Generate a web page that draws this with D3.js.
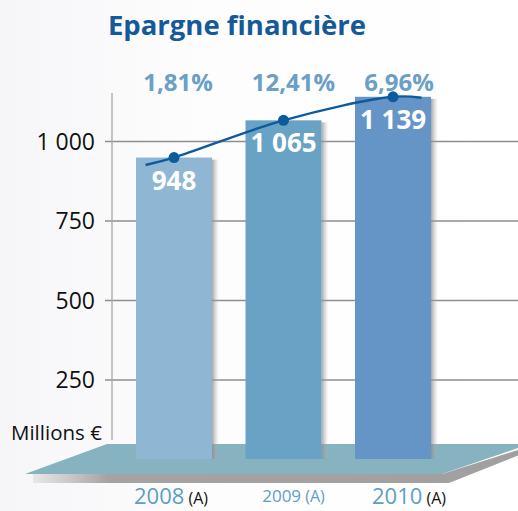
<!DOCTYPE html>
<html>
<head>
<meta charset="utf-8">
<script src="https://cdn.jsdelivr.net/npm/d3@7"></script>
<style>
  html, body { margin: 0; padding: 0; background: #ffffff; }
  svg { display: block; }
</style>
</head>
<body>
<svg id="chart" width="518" height="511"></svg>
<script>
// ---- data ----
const years = ["2008", "2009", "2010"];
const values = [948, 1065, 1139];
const valueLabels = ["948", "1 065", "1 139"];
const growthLabels = ["1,81%", "12,41%", "6,96%"];
const yTicks = [250, 500, 750, 1000];
const yTickLabels = ["250", "500", "750", "1 000"];
const title = "Epargne financière";
const unitLabel = "Millions €";
const yearSuffix = "(A)";

// ---- layout ----
const W = 518, H = 511;
const barColors = ["#8fb7d3", "#68a2c4", "#6595c7"];
const font = "'Open Sans', 'Noto Sans', sans-serif";

const svg = d3.select("#chart");

// background
const defs = svg.append("defs");
const bg = defs.append("linearGradient").attr("id", "bg").attr("x1", 0).attr("x2", 1).attr("y1", 0).attr("y2", 0);
bg.append("stop").attr("offset", "0%").attr("stop-color", "#f6f6f8");
bg.append("stop").attr("offset", "40%").attr("stop-color", "#fdfdfe");
bg.append("stop").attr("offset", "100%").attr("stop-color", "#ffffff");
svg.append("rect").attr("width", W).attr("height", H).attr("fill", "url(#bg)");

const sh = defs.append("linearGradient").attr("id", "barShadow").attr("x1", 0).attr("x2", 1).attr("y1", 0).attr("y2", 0);
sh.append("stop").attr("offset", "0%").attr("stop-color", "#8a8a8a").attr("stop-opacity", 0.75);
sh.append("stop").attr("offset", "100%").attr("stop-color", "#bbbbbb").attr("stop-opacity", 0);

const platShadow = defs.append("linearGradient").attr("id", "platShadow").attr("x1", 0).attr("x2", 1).attr("y1", 0).attr("y2", 0);
platShadow.append("stop").attr("offset", "0%").attr("stop-color", "#a9a9a9").attr("stop-opacity", 0.2);
platShadow.append("stop").attr("offset", "15%").attr("stop-color", "#a3a3a3").attr("stop-opacity", 1);
platShadow.append("stop").attr("offset", "100%").attr("stop-color", "#a0a0a0").attr("stop-opacity", 1);

// scales
const x = d3.scaleBand().domain(years).range([136, 431]).paddingInner(0.306).paddingOuter(0);
const y = d3.scaleLinear().domain([0, 1000]).range([459, 141]);

// title
svg.append("text")
  .attr("x", 237).attr("y", 35)
  .attr("text-anchor", "middle")
  .attr("font-family", font).attr("font-weight", 700).attr("font-size", 27.5)
  .attr("fill", "#14599a")
  .text(title);

// gridlines + tick labels
const axis = d3.axisLeft(y)
  .tickValues(yTicks)
  .tickSize(-(W - 105))
  .tickPadding(10)
  .tickFormat((d, i) => yTickLabels[i]);
const gAxis = svg.append("g").attr("transform", "translate(105,0)").call(axis);
gAxis.select(".domain").remove();
gAxis.selectAll(".tick line").attr("stroke", "#8e8e8e").attr("stroke-width", 1.3);
gAxis.selectAll(".tick text")
  .attr("font-family", font).attr("font-size", 23).attr("fill", "#111")
  .attr("dy", "0.36em");

// vertical axis line
svg.append("line")
  .attr("x1", 112).attr("x2", 112).attr("y1", 93).attr("y2", 440)
  .attr("stroke", "#a8a8a8").attr("stroke-width", 1.3);

// unit label
svg.append("text")
  .attr("x", 11).attr("y", 440)
  .attr("font-family", font).attr("font-size", 20.5).attr("fill", "#111")
  .text(unitLabel);

// platform (shadow then top)
const pl = { tl: [107, 444], tr: [530, 444], br: [442, 474], bl: [25, 474] };
svg.append("path")
  .attr("d", `M${pl.bl[0] + 8},${pl.bl[1]} L${pl.br[0]},${pl.br[1]} L${pl.tr[0] - 6},${pl.tr[1] + 4} L${pl.tr[0] + 2},${pl.tr[1] + 6} L${pl.br[0] + 7},${pl.br[1] + 9} L${pl.bl[0] + 8},${pl.bl[1] + 9} Z`)
  .attr("fill", "url(#platShadow)");
svg.append("path")
  .attr("d", `M${pl.tl[0]},${pl.tl[1]} L${pl.tr[0]},${pl.tr[1]} L${pl.br[0]},${pl.br[1]} L${pl.bl[0]},${pl.bl[1]} Z`)
  .attr("fill", "#87b2bf");

// bars
const bars = svg.append("g");
years.forEach((yr, i) => {
  bars.append("rect")
    .attr("x", x(yr) + x.bandwidth()).attr("y", y(values[i]) + 2)
    .attr("width", 7).attr("height", y(0) - y(values[i]) - 2)
    .attr("fill", "url(#barShadow)");
  bars.append("rect")
    .attr("x", x(yr)).attr("y", y(values[i]))
    .attr("width", x.bandwidth()).attr("height", y(0) - y(values[i]))
    .attr("fill", barColors[i]);
});

// value labels inside bars
svg.append("g").selectAll("text").data(years).join("text")
  .attr("x", d => x(d) + x.bandwidth() / 2)
  .attr("y", (d, i) => y(values[i]) + 32)
  .attr("text-anchor", "middle")
  .attr("font-family", font).attr("font-weight", 700).attr("font-size", 26)
  .attr("fill", "#ffffff")
  .text((d, i) => valueLabels[i]);

// trend line
const pts = years.map((yr, i) => [x(yr) + x.bandwidth() / 2, y(values[i])]);
const p0 = pts[0], p1 = pts[1], p2 = pts[pts.length - 1];
const ext = [
  [p0[0] - 0.26 * (p1[0] - p0[0]), p0[1] - 0.2 * (p1[1] - p0[1])],
  ...pts,
  [p2[0] + 0.26 * (p2[0] - p1[0]), p2[1] + 1]
];
svg.append("path")
  .attr("d", d3.line().curve(d3.curveCatmullRom.alpha(0.5))(ext))
  .attr("fill", "none").attr("stroke", "#0d5b9c").attr("stroke-width", 2.4);
svg.append("g").selectAll("circle").data(pts).join("circle")
  .attr("cx", d => d[0]).attr("cy", d => d[1]).attr("r", 5.5)
  .attr("fill", "#0d5b9c");

// growth labels
const growthNudge = [4, 10, 6];
svg.append("g").selectAll("text").data(years).join("text")
  .attr("x", (d, i) => x(d) + x.bandwidth() / 2 + growthNudge[i])
  .attr("y", 91)
  .attr("text-anchor", "middle")
  .attr("font-family", font).attr("font-weight", 700).attr("font-size", 24)
  .attr("fill", "#6a9fc6")
  .text((d, i) => growthLabels[i]);

// category labels
const catNudge = [-3, 10, 16];
const catBig = [true, false, true];
years.forEach((yr, i) => {
  const t = svg.append("text")
    .attr("x", x(yr) + x.bandwidth() / 2 + catNudge[i])
    .attr("y", catBig[i] ? 504 : 502)
    .attr("text-anchor", "middle")
    .attr("font-family", font);
  t.append("tspan")
    .attr("font-size", catBig[i] ? 22 : 17)
    .attr("fill", "#5d9dc8")
    .text(yr);
  t.append("tspan")
    .attr("font-size", 16)
    .attr("fill", catBig[i] ? "#111" : "#5d9dc8")
    .text(" " + yearSuffix);
});
</script>
</body>
</html>
